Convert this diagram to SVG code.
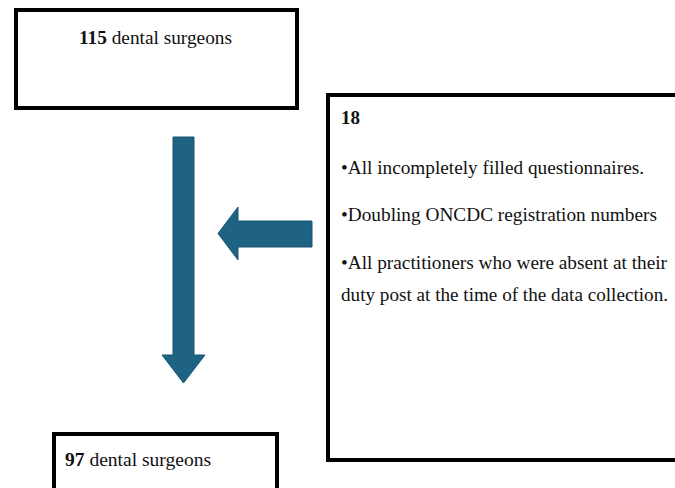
<svg xmlns="http://www.w3.org/2000/svg" width="675" height="488" viewBox="0 0 675 488">
<style>
.box{fill:#fff;stroke:#000;stroke-width:4}
.t{font-family:"Liberation Serif","Times New Roman","DejaVu Serif",serif;font-size:19px;fill:#111}
.b{font-weight:bold}
.arr{fill:#1e6384;stroke:#195673;stroke-width:1}
</style>
<rect width="675" height="488" fill="#fff"/>
<g id="connectors">
<polygon class="arr" points="173,137 194,137 194,355 205,355 183.5,383 162,355 173,355"/>
<polygon class="arr" points="312,221 312,247 238,247 238,260 218,233.5 238,207 238,221"/>
</g>
<g id="node-start">
<rect class="box" x="16" y="10" width="281" height="98"/>
<text class="t" x="79" y="44" textLength="153" lengthAdjust="spacingAndGlyphs"><tspan class="b">115</tspan> dental surgeons</text>
</g>
<g id="node-excluded">
<rect class="box" x="328" y="95" width="360" height="365"/>
<text class="t b" x="341" y="124">18</text>
<text class="t" x="341" y="174" textLength="303" lengthAdjust="spacingAndGlyphs">•All incompletely filled questionnaires.</text>
<text class="t" x="341" y="221" textLength="316" lengthAdjust="spacingAndGlyphs">•Doubling ONCDC registration numbers</text>
<text class="t" x="341" y="269" textLength="326" lengthAdjust="spacingAndGlyphs">•All practitioners who were absent at their</text>
<text class="t" x="341" y="301" textLength="327" lengthAdjust="spacingAndGlyphs">duty post at the time of the data collection.</text>
</g>
<g id="node-final">
<rect class="box" x="54" y="434" width="223" height="80"/>
<text class="t" x="65" y="466" textLength="146" lengthAdjust="spacingAndGlyphs"><tspan class="b">97</tspan> dental surgeons</text>
</g>
</svg>
